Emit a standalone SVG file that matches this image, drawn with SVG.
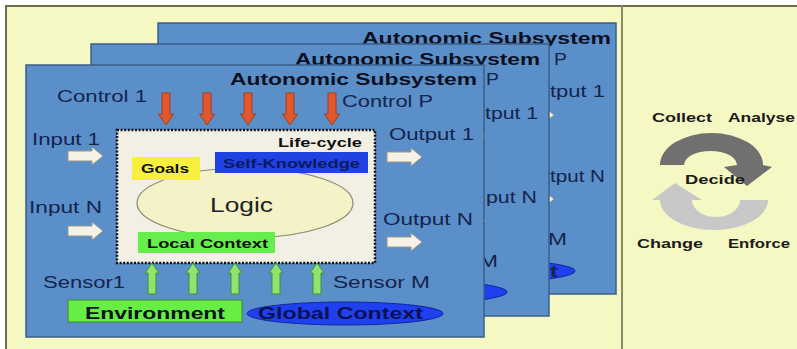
<svg xmlns="http://www.w3.org/2000/svg" xmlns:xlink="http://www.w3.org/1999/xlink" width="797" height="349" viewBox="0 0 797 349">
<defs>
<style>
text{font-family:"Liberation Sans",Arial,sans-serif;}
.panel{fill:#5b8fca;stroke:#3b5f88;stroke-width:1.5;}
.title{font-size:16px;font-weight:bold;fill:#0c1020;}
.lbl{font-size:16px;fill:#14244a;}
.bl{font-weight:bold;}
.small{font-size:13.5px;font-weight:bold;fill:#101010;}
.red{fill:#e2582e;stroke:#a83a18;stroke-width:1;}
.grn{fill:#8fe46f;stroke:#3f8f3a;stroke-width:1;}
.wht{fill:#f6f2e6;stroke:#9a9888;stroke-width:1;}
.gctx{fill:#1f40ee;stroke:#14249a;stroke-width:1;}
.cyc{font-size:13px;font-weight:bold;fill:#1a1a1a;}
</style>
<path id="redArrow" class="red" d="M -4 93 H 4 V 114 H 7.5 L 0 125 L -7.5 114 H -4 Z"/>
<path id="grnArrow" class="grn" d="M 0 263 L 7 273 H 4 V 294 H -4 V 273 H -7 Z"/>
<path id="whtArrow" class="wht" d="M 0 -5 H 24 V -9 L 35 0 L 24 9 V 5 H 0 Z"/>
</defs>

<rect x="0" y="0" width="797" height="349" fill="#ffffff"/>
<rect x="6" y="6" width="800" height="360" fill="#f6f8c4" stroke="#6e6e4c" stroke-width="2"/>
<line x1="622" y1="6" x2="622" y2="349" stroke="#8a8a64" stroke-width="2"/>

<g id="panel-back">
<rect class="panel" x="158" y="23" width="458" height="271"/>
<text class="title" x="362" y="44" textLength="249" lengthAdjust="spacingAndGlyphs">Autonomic Subsystem</text>
<text class="lbl" x="554" y="65" textLength="13" lengthAdjust="spacingAndGlyphs">P</text>
<text class="lbl" x="550" y="97" textLength="55" lengthAdjust="spacingAndGlyphs">tput 1</text>
<text class="lbl" x="550" y="182" textLength="55" lengthAdjust="spacingAndGlyphs">tput N</text>
<text class="lbl" x="548" y="245" textLength="19" lengthAdjust="spacingAndGlyphs">M</text>
<use xlink:href="#whtArrow" x="519" y="115"/>
<use xlink:href="#whtArrow" x="519" y="199"/>
<ellipse class="gctx" cx="478" cy="271" rx="97" ry="11.5"/>
<text class="lbl bl" x="550" y="277" font-size="15" fill="#0a1050" textLength="8" lengthAdjust="spacingAndGlyphs">t</text>
</g>

<g id="panel-middle">
<rect class="panel" x="91" y="44" width="458" height="272"/>
<text class="title" x="295" y="65" textLength="245" lengthAdjust="spacingAndGlyphs">Autonomic Subsystem</text>
<text class="lbl" x="486" y="85" textLength="13" lengthAdjust="spacingAndGlyphs">P</text>
<text class="lbl" x="485" y="119" textLength="53" lengthAdjust="spacingAndGlyphs">tput 1</text>
<text class="lbl" x="486" y="203" textLength="51" lengthAdjust="spacingAndGlyphs">put N</text>
<text class="lbl" x="479" y="267" textLength="19" lengthAdjust="spacingAndGlyphs">M</text>
<use xlink:href="#whtArrow" x="451" y="136"/>
<use xlink:href="#whtArrow" x="451" y="221"/>
<ellipse class="gctx" cx="410" cy="292" rx="97" ry="11.5"/>
</g>

<g id="panel-front">
<rect class="panel" x="26" y="65" width="458" height="272"/>
<text class="title" x="230" y="85" textLength="247" lengthAdjust="spacingAndGlyphs">Autonomic Subsystem</text>
<text class="lbl" x="57" y="102" textLength="90" lengthAdjust="spacingAndGlyphs">Control 1</text>
<text class="lbl" x="342" y="107" textLength="91" lengthAdjust="spacingAndGlyphs">Control P</text>
<text class="lbl" x="32" y="145" textLength="68" lengthAdjust="spacingAndGlyphs">Input 1</text>
<text class="lbl" x="29" y="213" textLength="73" lengthAdjust="spacingAndGlyphs">Input N</text>
<text class="lbl" x="389" y="140" textLength="85" lengthAdjust="spacingAndGlyphs">Output 1</text>
<text class="lbl" x="383" y="225" textLength="90" lengthAdjust="spacingAndGlyphs">Output N</text>
<text class="lbl" x="43" y="288" textLength="82" lengthAdjust="spacingAndGlyphs">Sensor1</text>
<text class="lbl" x="333" y="288" textLength="97" lengthAdjust="spacingAndGlyphs">Sensor M</text>
</g>

<g id="logic-box">
<rect x="117" y="130" width="258" height="133" fill="#f2f0e4" stroke="#111" stroke-width="2.5" stroke-dasharray="2 1.6"/>
<text class="small" x="278" y="147" textLength="84" lengthAdjust="spacingAndGlyphs">Life-cycle</text>
<ellipse cx="245" cy="203" rx="108" ry="35" fill="#f6f2c8" stroke="#8c8a70" stroke-width="1.2"/>
<text x="210" y="212" font-size="20" fill="#222" textLength="63" lengthAdjust="spacingAndGlyphs">Logic</text>
</g>

<g id="goals">
<rect x="132" y="157" width="68" height="23" fill="#f8f040"/>
<text class="small" x="141" y="173" textLength="48" lengthAdjust="spacingAndGlyphs">Goals</text>
</g>

<g id="self-knowledge">
<rect x="215" y="152" width="153" height="21" fill="#2142e2"/>
<text class="small" x="223" y="168" fill="#0a1a60" textLength="137" lengthAdjust="spacingAndGlyphs" style="fill:#0a1a60">Self-Knowledge</text>
</g>

<g id="local-context">
<rect x="138" y="232" width="137" height="21" fill="#66ee4c"/>
<text class="small" x="147" y="248" textLength="121" lengthAdjust="spacingAndGlyphs">Local Context</text>
</g>

<g id="environment">
<rect x="68" y="300" width="174" height="22" fill="#66ee44" stroke="#3a8a30" stroke-width="1"/>
<text class="title" x="85" y="319" textLength="140" lengthAdjust="spacingAndGlyphs">Environment</text>
</g>

<g id="global-context">
<ellipse class="gctx" cx="345" cy="313.5" rx="98" ry="11.5"/>
<text class="title" x="258" y="319" textLength="165" lengthAdjust="spacingAndGlyphs" style="fill:#0a1050">Global Context</text>
</g>

<g id="connectors">
<use xlink:href="#redArrow" x="166"/>
<use xlink:href="#redArrow" x="207"/>
<use xlink:href="#redArrow" x="248"/>
<use xlink:href="#redArrow" x="290"/>
<use xlink:href="#redArrow" x="332"/>
<use xlink:href="#grnArrow" x="152"/>
<use xlink:href="#grnArrow" x="193"/>
<use xlink:href="#grnArrow" x="235"/>
<use xlink:href="#grnArrow" x="276"/>
<use xlink:href="#grnArrow" x="317"/>
<use xlink:href="#whtArrow" x="68" y="156"/>
<use xlink:href="#whtArrow" x="68" y="231"/>
<use xlink:href="#whtArrow" x="387" y="157"/>
<use xlink:href="#whtArrow" x="387" y="242"/>
</g>

<g id="cycle">
<path d="M 660 165 A 51.5 32 0 0 1 763 165 L 772 167 L 747 186 L 724 167 L 737 165 A 26.5 14 0 0 0 684 165 Z" fill="#707070"/>
<path d="M 652 200 L 675 183 L 702 200 L 692 200 A 24 17 0 0 0 740 200 L 768 200 A 54 30 0 0 1 660 200 Z" fill="#c8c8c8"/>
<text class="cyc" x="652" y="122" textLength="60" lengthAdjust="spacingAndGlyphs">Collect</text>
<text class="cyc" x="728" y="122" textLength="67" lengthAdjust="spacingAndGlyphs">Analyse</text>
<text class="cyc" x="685" y="184" textLength="60" lengthAdjust="spacingAndGlyphs">Decide</text>
<text class="cyc" x="637" y="248" textLength="66" lengthAdjust="spacingAndGlyphs">Change</text>
<text class="cyc" x="728" y="248" textLength="62" lengthAdjust="spacingAndGlyphs">Enforce</text>
</g>
</svg>
